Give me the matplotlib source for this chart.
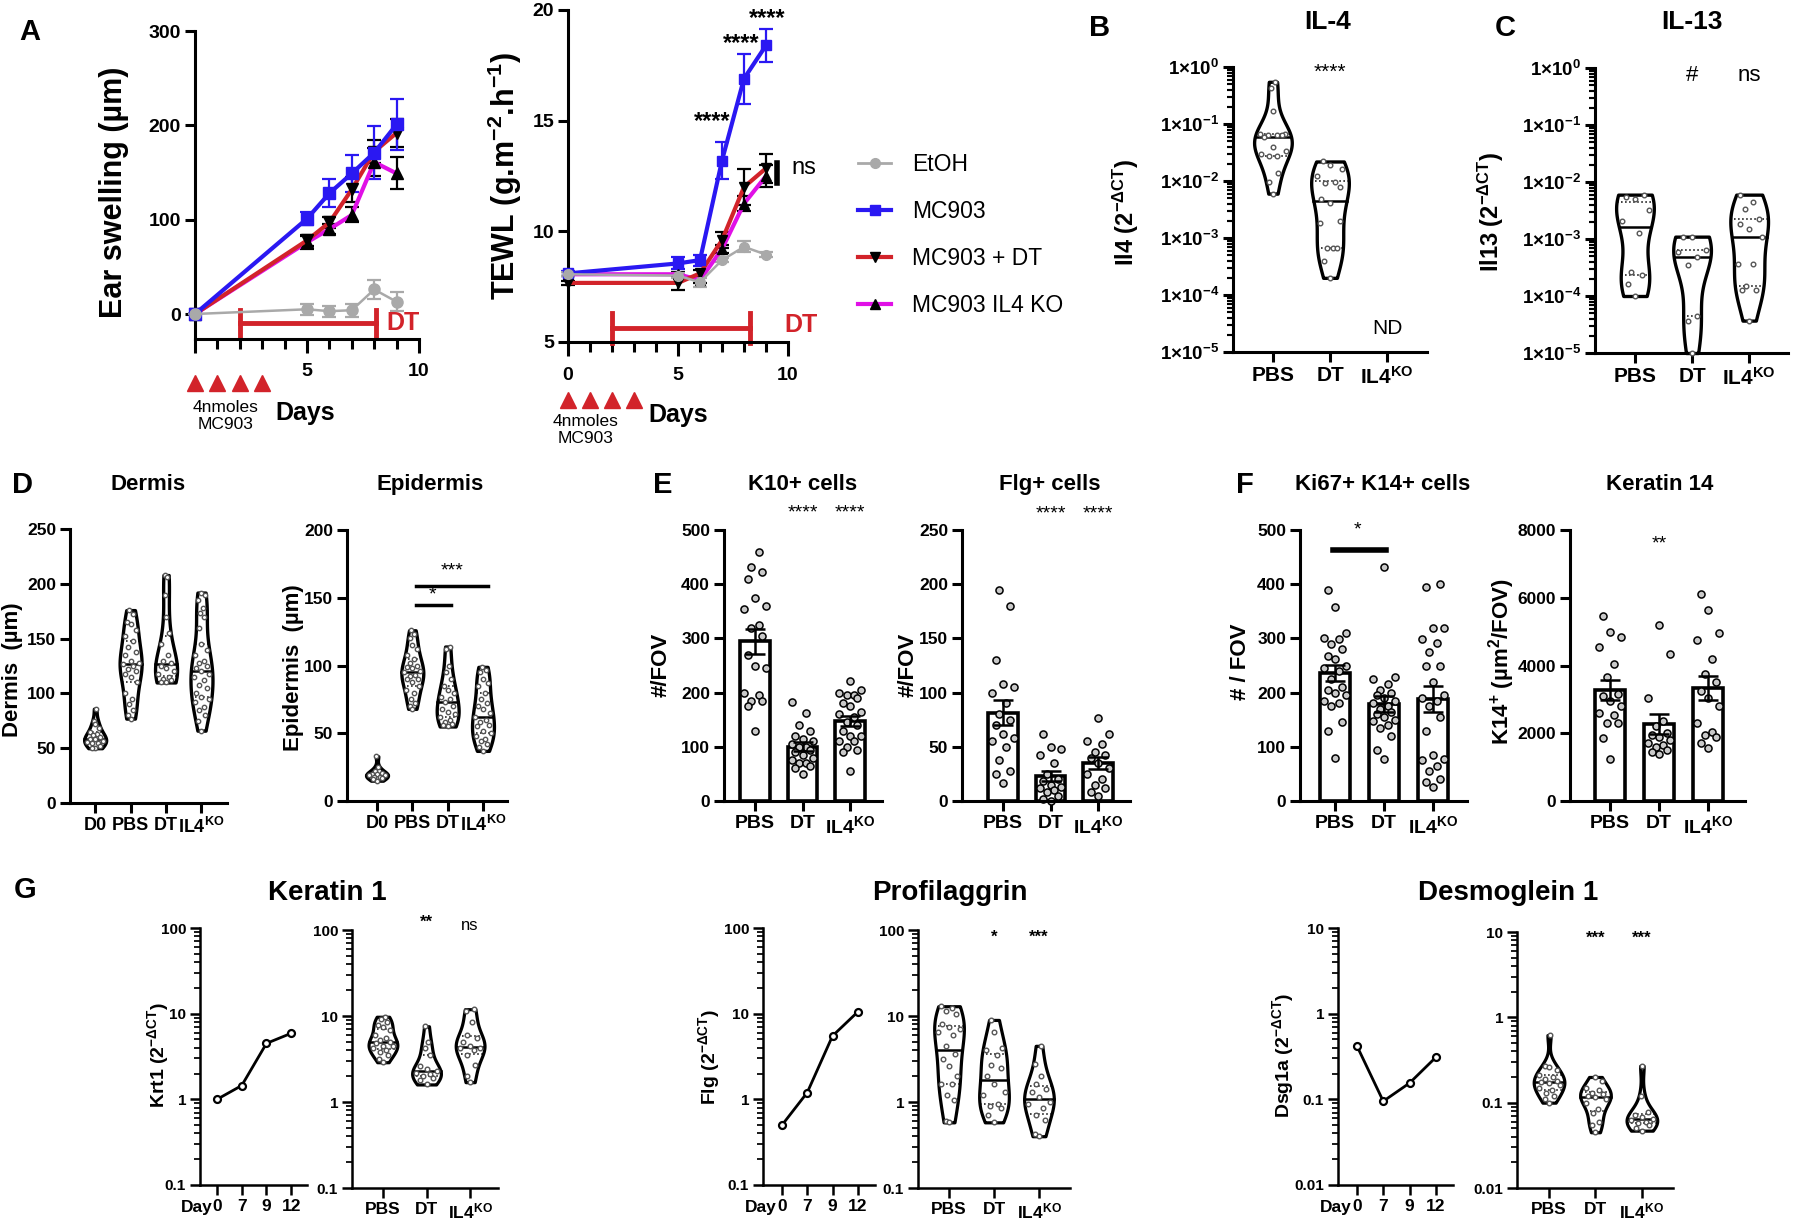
import numpy as np
import matplotlib
matplotlib.use('Agg')
import matplotlib.pyplot as plt
from matplotlib.lines import Line2D
from matplotlib.ticker import LogLocator, NullFormatter

plt.rcParams['font.family'] = ['Liberation Sans', 'DejaVu Sans']
plt.rcParams['font.weight'] = 'bold'
plt.rcParams['mathtext.default'] = 'regular'

# ---------------- data ----------------
days = [0, 5, 6, 7, 8, 9]
ear_etoh = [0, 5, 3, 4, 26, 13]
ear_etoh_err = [0, 6, 6, 7, 10, 10]
ear_mc903 = [0, 101, 128, 149, 171, 201]
ear_mc903_err = [0, 7, 15, 20, 28, 27]
ear_dt = [0, 78, 97, 132, 172, 192]
ear_dt_err = [0, 6, 6, 13, 12, 15]
ear_ko = [0, 76, 90, 105, 161, 149]
ear_ko_err = [0, 7, 5, 8, 15, 17]

tewl_etoh = [8.06, 8.0, 7.7, 8.7, 9.3, 8.95]
tewl_etoh_err = [0.1, 0.1, 0.2, 0.1, 0.25, 0.1]
tewl_mc903 = [8.1, 8.55, 8.7, 13.2, 16.9, 18.4]
tewl_mc903_err = [0.1, 0.27, 0.25, 0.83, 1.13, 0.75]
tewl_dt = [7.67, 7.67, 8.1, 9.6, 12.0, 12.85]
tewl_dt_err = [0.1, 0.3, 0.15, 0.35, 0.8, 0.65]
tewl_ko = [8.06, 8.06, 7.8, 9.2, 11.25, 12.5]
tewl_ko_err = [0.1, 0.1, 0.15, 0.2, 0.35, 0.5]

mc903_days = [0, 1, 2, 3]
dt_window = [2, 8.1]
tewl_stars_x = [6.55, 7.86, 9.05]
tewl_stars_y = [14.95, 18.5, 19.6]

groups3 = ['PBS', 'DT', r'IL4$^{KO}$']
groups4 = ['D0', 'PBS', 'DT', r'IL4$^{KO}$']

il4_pbs = [0.55, 0.42, 0.17, 0.068, 0.066, 0.065, 0.065, 0.063, 0.058, 0.04, 0.034,
           0.03, 0.028, 0.027, 0.014, 0.0095, 0.006]
il4_dt = [0.022, 0.019, 0.016, 0.012, 0.0095, 0.0092, 0.0078, 0.0048, 0.0041, 0.002,
          0.0018, 0.00068, 0.00068, 0.00066, 0.0004, 0.0002]
il13_pbs = [0.006, 0.0055, 0.005, 0.0032, 0.0021, 0.0013, 0.00026, 0.00023, 0.00016, 0.0001]
il13_dt = [0.0011, 0.0011, 0.00065, 0.0006, 0.00048, 0.00035, 0.000045, 0.000037, 0.00001]
il13_ko = [0.006, 0.0045, 0.0033, 0.0022, 0.0018, 0.0015, 0.0011, 0.00037, 0.00037,
           0.00015, 0.00013, 0.00013, 0.000037]

dermis = [
    [86, 75, 72, 68, 65, 63, 62, 60, 58, 58, 57, 56, 55, 55, 52, 50, 50],
    [176, 172, 165, 163, 158, 152, 148, 142, 138, 135, 130, 128, 127, 125, 122, 120, 118,
     115, 110, 100, 95, 90, 85, 80, 77],
    [208, 206, 190, 170, 155, 145, 135, 130, 128, 125, 123, 120, 118, 115, 113, 112, 110, 110],
    [192, 190, 185, 178, 173, 170, 160, 145, 140, 135, 130, 128, 125, 123, 120, 118, 115,
     112, 108, 105, 100, 97, 95, 92, 88, 85, 80, 75, 66],
]
epidermis = [
    [33, 25, 22, 21, 20, 20, 19, 19, 18, 18, 17, 16, 15],
    [126, 123, 120, 115, 112, 108, 105, 102, 100, 99, 98, 96, 95, 93, 92, 90, 90, 88, 85,
     82, 80, 75, 72, 70, 68],
    [114, 112, 100, 95, 90, 85, 82, 80, 77, 75, 73, 70, 68, 66, 64, 62, 60, 58, 57, 56, 55],
    [99, 97, 95, 90, 87, 85, 80, 75, 72, 70, 68, 65, 62, 60, 58, 56, 55, 52, 50, 48, 46,
     44, 42, 40, 37],
]

k10 = [
    [460, 432, 422, 410, 375, 360, 355, 325, 320, 305, 270, 250, 245, 200, 195, 185, 185, 175, 130],
    [183, 163, 140, 130, 120, 115, 110, 105, 100, 100, 95, 90, 85, 80, 75, 70, 70, 65, 60, 50],
    [222, 205, 200, 195, 195, 190, 180, 175, 165, 160, 155, 145, 140, 130, 120, 120, 110,
     110, 100, 95, 90, 55],
]
flg_cells = [
    [195, 180, 130, 108, 105, 100, 90, 80, 75, 70, 62, 58, 55, 50, 38, 28, 25, 17],
    [62, 50, 48, 42, 35, 25, 20, 18, 15, 13, 12, 10, 8, 5, 2, 0],
    [77, 62, 55, 53, 45, 42, 40, 35, 30, 25, 20, 15, 12, 8, 5],
]
ki67 = [
    [390, 358, 310, 300, 298, 290, 280, 268, 262, 250, 245, 240, 225, 210, 205, 200, 195,
     185, 180, 175, 145, 130, 80],
    [432, 228, 225, 215, 205, 200, 195, 190, 185, 180, 175, 170, 165, 160, 155, 150, 148,
     140, 135, 120, 95, 78],
    [400, 395, 320, 320, 298, 292, 275, 250, 250, 220, 195, 190, 185, 175, 155, 130, 85,
     78, 75, 65, 55, 40, 35, 25],
]
k14 = [
    [5450, 5000, 4850, 4550, 4050, 3650, 3150, 3100, 2950, 2800, 2600, 2550, 2300, 2300, 1850, 1250],
    [5200, 4350, 3050, 2350, 2200, 2000, 1950, 1900, 1800, 1700, 1650, 1600, 1500, 1450, 1400],
    [6100, 5650, 4950, 4750, 4200, 3750, 3500, 3250, 3050, 2800, 2300, 2050, 1950, 1900, 1700, 1550],
]

time_days = ['0', '7', '9', '12']
krt1_time = [1.0, 1.45, 4.5, 5.9]
flg_time = [0.5, 1.2, 5.5, 10.5]
dsg_time = [0.42, 0.095, 0.155, 0.31]

krt1 = [
    [9.8, 9.2, 8.5, 7.8, 7.5, 6.8, 6, 5.5, 5.2, 5.0, 4.8, 4.5, 4.5, 4.2, 4.0, 3.8, 3.5, 3.2, 2.9],
    [7.6, 5.0, 4.2, 3.5, 2.6, 2.4, 2.3, 2.2, 2.1, 2.0, 1.9, 1.8, 1.6],
    [12, 11.5, 8.5, 6, 5.5, 5, 4.5, 4.3, 4.2, 4.0, 3.5, 2.7, 2.0, 1.7],
]
flg = [
    [13, 12.5, 11.5, 10.5, 8, 7.5, 7, 6.5, 6, 4.5, 3.6, 3.2, 2.6, 2.0, 1.6, 1.6, 1.2, 1.05, 0.6, 0.58],
    [9, 6.5, 4.2, 4.0, 3.5, 2.7, 2.5, 2.0, 1.6, 1.3, 1.2, 0.95, 0.9, 0.85, 0.7, 0.58],
    [4.5, 2.8, 2.0, 1.6, 1.4, 1.3, 1.15, 1.0, 0.95, 0.85, 0.7, 0.62, 0.42, 0.4],
]
dsg = [
    [0.62, 0.27, 0.26, 0.24, 0.21, 0.2, 0.19, 0.18, 0.175, 0.17, 0.16, 0.15, 0.14, 0.13, 0.12, 0.11, 0.1],
    [0.2, 0.18, 0.15, 0.14, 0.13, 0.125, 0.12, 0.115, 0.11, 0.1, 0.085, 0.075, 0.06, 0.055, 0.045],
    [0.27, 0.12, 0.078, 0.072, 0.068, 0.065, 0.063, 0.06, 0.058, 0.055, 0.05, 0.047],
]

# ---------------- helpers ----------------
W, H = 1800, 1224
fig = plt.figure(figsize=(18, 12.24), dpi=100)

RED = '#d2232a'
BLUE = '#2a18f2'
MAG = '#e010e6'
GRAY = '#a9a9a9'


def add_ax(x0, y0, x1, y1, lw=2.2, fs=13):
    ax = fig.add_axes([x0 / W, 1 - y1 / H, (x1 - x0) / W, (y1 - y0) / H])
    ax.patch.set_alpha(0)
    for s in ['top', 'right']:
        ax.spines[s].set_visible(False)
    for s in ['left', 'bottom']:
        ax.spines[s].set_linewidth(lw)
    ax.tick_params(width=lw, length=7, labelsize=fs, pad=3)
    ax.tick_params(which='minor', width=lw * 0.7, length=4)
    return ax


def ftext(x, y, s, **kw):
    kw.setdefault('ha', 'center')
    kw.setdefault('va', 'center')
    fig.text(x / W, 1 - y / H, s, **kw)


def log_axis(ax, lo, hi, labels, fs):
    ax.set_yscale('log')
    ax.set_ylim(lo, hi)
    ticks = [10.0 ** e for e in range(int(np.log10(lo)), int(np.log10(hi)) + 1)]
    ax.set_yticks(ticks)
    ax.set_yticklabels(labels, fontsize=fs)
    ax.yaxis.set_minor_locator(LogLocator(base=10, subs=np.arange(2, 10) * 1.0, numticks=50))
    ax.yaxis.set_minor_formatter(NullFormatter())


def violin(ax, x, vals, log=True, w=0.33, lw=2.4, s=11):
    v = np.asarray(vals, float)
    t = np.log10(v) if log else v
    g = np.linspace(t.min(), t.max(), 200)
    bw = 1.0 * t.std() * len(t) ** -0.2
    d = np.exp(-0.5 * ((g[:, None] - t[None, :]) / bw) ** 2).sum(1)
    d = d / d.max() * w
    yy = 10 ** g if log else g
    ax.fill_betweenx(yy, x - d, x + d, facecolor='white', edgecolor='black', lw=lw,
                     zorder=2, clip_on=False)
    q1, med, q3 = np.percentile(t, [25, 50, 75])
    for q, ls, qlw in [(med, '-', 1.8), (q1, ':', 1.1), (q3, ':', 1.1)]:
        dq = np.interp(q, g, d)
        yq = 10 ** q if log else q
        ax.plot([x - dq, x + dq], [yq, yq], color='black', ls=ls, lw=qlw, zorder=3)
    pattern = [0, -0.6, 0.6, -0.3, 0.3, -0.85, 0.85]
    order = np.argsort(t)
    offs = np.zeros(len(t))
    offs[order] = [pattern[i % len(pattern)] for i in range(len(t))]
    xs = x + offs * np.interp(t, g, d) * 0.85
    ax.scatter(xs, v, s=s, facecolor='white', edgecolor='#555555', lw=1.0, zorder=4,
               clip_on=False)


def bar_dots(ax, x, vals, s=26):
    v = np.asarray(vals, float)
    m = v.mean()
    se = v.std(ddof=1) / np.sqrt(len(v))
    ax.bar(x, m, width=0.62, facecolor='white', edgecolor='black', lw=2.6, zorder=1)
    pattern = [0, -0.6, 0.6, -0.3, 0.3, -0.9, 0.9]
    order = np.argsort(v)
    offs = np.zeros(len(v))
    offs[order] = [pattern[i % len(pattern)] * 0.25 for i in range(len(v))]
    ax.scatter(x + offs, v, s=s, facecolor='#c9c9c9', edgecolor='black', lw=1.1, zorder=2,
               clip_on=False)
    ax.errorbar(x, m, yerr=se, color='black', capsize=7, elinewidth=1.8, capthick=1.8, zorder=3)


def cat_axis(ax, labels, fs):
    ax.set_xticks(range(len(labels)))
    ax.set_xticklabels(labels, fontsize=fs)


# ---------------- panel A ----------------
def time_course(ax, series, ms):
    for vals, err, lc, mk, mc in series:
        cont = ax.errorbar(days, vals, yerr=err, color=lc, lw=3 if lc != GRAY else 1.8,
                           marker=mk, ms=ms, mfc=mc, mec=mc, ecolor=mc,
                           elinewidth=1.6, capsize=5, capthick=1.6, zorder=3)
        for art in cont.get_children():
            art.set_clip_on(False)


axA1 = add_ax(195, 31, 419, 339, fs=14)
time_course(axA1, [(ear_ko, ear_ko_err, MAG, '^', 'black'),
                   (ear_dt, ear_dt_err, RED, 'v', 'black'),
                   (ear_mc903, ear_mc903_err, BLUE, 's', BLUE),
                   (ear_etoh, ear_etoh_err, GRAY, 'o', GRAY)], 8)
axA1.set_xlim(0, 10)
axA1.set_ylim(-26.5, 300)
axA1.set_yticks([0, 100, 200, 300])
axA1.set_xticks([0, 5, 10])
axA1.set_xticklabels(['', '5', '10'])
axA1.set_xticks([1, 2, 3, 4, 6, 7, 8, 9], minor=True)
axA1.tick_params(axis='x', length=10, pad=7)
axA1.tick_params(axis='x', which='minor', length=7, width=2.2)
axA1.plot(dt_window, [-10, -10], color=RED, lw=3.5, clip_on=False)
for xd in dt_window:
    axA1.plot([xd, xd], [-24, 4], color=RED, lw=3.5, clip_on=False)
axA1.plot(mc903_days, [-73] * 4, ls='none', marker='^', color=RED, ms=12, clip_on=False)
ftext(403, 323, 'DT', color=RED, fontsize=18)
ftext(226, 416, '4nmoles\nMC903', fontsize=12.5, fontweight='normal', linespacing=1.15)
ftext(305, 413, 'Days', fontsize=18)
ftext(114, 192, 'Ear swelling (µm)', fontsize=22, rotation=90)

axA2 = add_ax(568, 10, 788, 342, fs=14)
time_course(axA2, [(tewl_ko, tewl_ko_err, MAG, '^', 'black'),
                   (tewl_dt, tewl_dt_err, RED, 'v', 'black'),
                   (tewl_mc903, tewl_mc903_err, BLUE, 's', BLUE),
                   (tewl_etoh, tewl_etoh_err, GRAY, 'o', GRAY)], 7)
axA2.set_xlim(0, 10)
axA2.set_ylim(5, 20)
axA2.set_yticks([5, 10, 15, 20])
axA2.set_xticks([0, 5, 10])
axA2.set_xticks([1, 2, 3, 4, 6, 7, 8, 9], minor=True)
axA2.tick_params(axis='x', length=10, pad=8)
axA2.tick_params(axis='x', which='minor', length=7, width=2.2)
axA2.plot([dt_window[0], dt_window[1] + 0.15], [5.63, 5.63], color=RED, lw=3.5, clip_on=False)
for xd in [dt_window[0], dt_window[1] + 0.15]:
    axA2.plot([xd, xd], [4.95, 6.3], color=RED, lw=3.5, clip_on=False)
axA2.plot(mc903_days, [2.4] * 4, ls='none', marker='^', color=RED, ms=12, clip_on=False)
for sx, sy in zip(tewl_stars_x, tewl_stars_y):
    axA2.text(sx, sy, '****', ha='center', va='center', fontsize=17)
axA2.plot([9.5, 9.5], [12.2, 13.1], color='black', lw=4)
axA2.text(10.15, 12.85, 'ns', ha='left', va='center', fontsize=17, fontweight='normal')
ftext(801, 325, 'DT', color=RED, fontsize=18)
ftext(586, 430, '4nmoles\nMC903', fontsize=12.5, fontweight='normal', linespacing=1.15)
ftext(678, 415, 'Days', fontsize=18)
ftext(505, 176, r'TEWL (g.m$^{-2}$.h$^{-1}$)', fontsize=22, rotation=90)

handles = [Line2D([], [], color=GRAY, lw=2, marker='o', ms=7),
           Line2D([], [], color=BLUE, lw=3, marker='s', ms=7),
           Line2D([], [], color=RED, lw=3, marker='v', ms=7, mfc='black', mec='black'),
           Line2D([], [], color=MAG, lw=3, marker='^', ms=7, mfc='black', mec='black')]
fig.legend(handles, ['EtOH', 'MC903', 'MC903 + DT', 'MC903 IL4 KO'], loc='upper left',
           bbox_to_anchor=(858 / W, 1 - 153 / H), frameon=False, borderpad=0,
           borderaxespad=0, handlelength=1.45, handletextpad=0.9, labelspacing=1.05,
           prop={'size': 16.5, 'weight': 'normal'})
ftext(30, 32, 'A', fontsize=21)

# ---------------- panels B, C ----------------
sci_labels = [r'1×10$^{-5}$', r'1×10$^{-4}$', r'1×10$^{-3}$', r'1×10$^{-2}$',
              r'1×10$^{-1}$', r'1×10$^{0}$']

axB = add_ax(1233, 67, 1427, 352, fs=14)
log_axis(axB, 1e-5, 1, sci_labels, 13.5)
violin(axB, 0, il4_pbs)
violin(axB, 1, il4_dt)
axB.set_xlim(-0.7, 2.7)
cat_axis(axB, groups3, 15)
axB.text(1, 0.82, '****', ha='center', va='center', fontsize=15, fontweight='normal')
axB.text(2, 2.6e-5, 'ND', ha='center', va='center', fontsize=15, fontweight='normal')
ftext(1126, 212, r'Il4 (2$^{-ΔCT}$)', fontsize=17, rotation=90)
ftext(1100, 28, 'B', fontsize=21)
ftext(1328, 22, 'IL-4', fontsize=19)

axC = add_ax(1595, 68, 1788, 353, fs=14)
log_axis(axC, 1e-5, 1, sci_labels, 13.5)
violin(axC, 0, il13_pbs)
violin(axC, 1, il13_dt)
violin(axC, 2, il13_ko)
axC.set_xlim(-0.7, 2.68)
cat_axis(axC, groups3, 15)
axC.text(1, 0.75, '#', ha='center', va='center', fontsize=16, fontweight='normal')
axC.text(2, 0.75, 'ns', ha='center', va='center', fontsize=16, fontweight='normal')
ftext(1491, 212, r'Il13 (2$^{-ΔCT}$)', fontsize=17, rotation=90)
ftext(1505, 28, 'C', fontsize=21)
ftext(1692, 22, 'IL-13', fontsize=19)

# ---------------- panel D ----------------
axD1 = add_ax(70, 529, 227, 803, fs=12.5)
for i, vals in enumerate(dermis):
    violin(axD1, i, vals, log=False, w=0.31, s=10)
axD1.set_xlim(-0.71, 3.72)
axD1.set_ylim(0, 250)
axD1.set_yticks(range(0, 251, 50))
cat_axis(axD1, groups4, 13)
ftext(13, 670, 'Dermis  (µm)', fontsize=16, rotation=90)

axD2 = add_ax(347, 530, 507, 801, fs=12.5)
for i, vals in enumerate(epidermis):
    violin(axD2, i, vals, log=False, w=0.31, s=10)
axD2.set_xlim(-0.85, 3.68)
axD2.set_ylim(0, 200)
axD2.set_yticks(range(0, 201, 50))
cat_axis(axD2, groups4, 13)
axD2.plot([1.1, 2.1], [144.6, 144.6], color='black', lw=2.5)
axD2.plot([1.1, 3.15], [158.7, 158.7], color='black', lw=2.5)
axD2.text(1.56, 152, '*', ha='center', va='center', fontsize=14, fontweight='normal')
axD2.text(2.12, 170, '***', ha='center', va='center', fontsize=14, fontweight='normal')
ftext(294, 668, 'Epidermis  (µm)', fontsize=16, rotation=90)
ftext(23, 485, 'D', fontsize=21)
ftext(148, 485, 'Dermis', fontsize=16)
ftext(430, 485, 'Epidermis', fontsize=16)

# ---------------- panel E ----------------
def bar_panel(ax, data, ymax, step, xlim):
    for i, vals in enumerate(data):
        bar_dots(ax, i, vals)
    ax.set_xlim(*xlim)
    ax.set_ylim(0, ymax)
    ax.set_yticks(np.arange(0, ymax + 1, step))
    cat_axis(ax, groups3, 14)


axE1 = add_ax(724, 530, 882, 801, fs=12.5)
bar_panel(axE1, k10, 500, 100, (-0.65, 2.67))
for xs in [1, 2]:
    axE1.text(xs, 531, '****', ha='center', va='center', fontsize=14, fontweight='normal')
ftext(661, 665, '#/FOV', fontsize=16, rotation=90)

axE2 = add_ax(962, 530, 1130, 801, fs=12.5)
bar_panel(axE2, flg_cells, 250, 50, (-0.86, 2.67))
for xs in [1, 2]:
    axE2.text(xs, 265, '****', ha='center', va='center', fontsize=14, fontweight='normal')
ftext(908, 665, '#/FOV', fontsize=16, rotation=90)
ftext(663, 485, 'E', fontsize=21)
ftext(803, 485, 'K10+ cells', fontsize=16)
ftext(1050, 485, 'Flg+ cells', fontsize=16)

# ---------------- panel F ----------------
axF1 = add_ax(1300, 530, 1467, 801, fs=12.5)
bar_panel(axF1, ki67, 500, 100, (-0.71, 2.69))
axF1.plot([-0.04, 1.04], [463, 463], color='black', lw=4, clip_on=False)
axF1.text(0.47, 500, '*', ha='center', va='center', fontsize=14, fontweight='normal')
ftext(1240, 662, '# / FOV', fontsize=16, rotation=90)

axF2 = add_ax(1570, 530, 1745, 801, fs=12.5)
bar_panel(axF2, k14, 8000, 2000, (-0.82, 2.75))
axF2.text(1, 7600, '**', ha='center', va='center', fontsize=14, fontweight='normal')
ftext(1502, 662, r'K14$^{+}$ (µm$^{2}$/FOV)', fontsize=16, rotation=90)
ftext(1245, 485, 'F', fontsize=21)
ftext(1383, 485, 'Ki67+ K14+ cells', fontsize=16)
ftext(1660, 485, 'Keratin 14', fontsize=16)

# ---------------- panel G ----------------
def time_panel(box, vals, lo, hi, labels, xlim):
    ax = add_ax(*box, lw=1.8, fs=11)
    ax.plot(range(len(vals)), vals, color='black', lw=2, marker='o', ms=5, mfc='white',
            mec='black', mew=1.6, zorder=3)
    log_axis(ax, lo, hi, labels, 11)
    ax.set_xlim(*xlim)
    ax.set_xticks(range(len(time_days)))
    ax.set_xticklabels(time_days, fontsize=12.5)
    ax.annotate('Day', xy=(0, 0), xycoords=('data', 'axes fraction'), xytext=(-3.5, -10.5),
                textcoords='offset points', ha='right', va='top', fontsize=12.5)
    return ax


def gene_violin(box, data, lo, hi, labels, xlim, stars):
    ax = add_ax(*box, lw=1.8, fs=11)
    log_axis(ax, lo, hi, labels, 11)
    for i, vals in enumerate(data):
        violin(ax, i, vals, w=0.33, s=11, lw=2.3)
    ax.set_xlim(*xlim)
    cat_axis(ax, groups3, 12.5)
    for xs, (txt, yv) in stars.items():
        ax.text(xs, yv, txt, ha='center', va='center', fontsize=12,
                fontweight='normal' if txt == 'ns' else 'bold')
    return ax


lab100 = ['0.1', '1', '10', '100']
lab10 = ['0.01', '0.1', '1', '10']

time_panel((200, 928, 307, 1185), krt1_time, 0.1, 100, lab100, (-0.69, 3.64))
gene_violin((352, 930, 498, 1188), krt1, 0.1, 100, lab100, (-0.71, 2.64),
            {1: ('**', 123), 2: ('ns', 113)})
ftext(158, 1055, r'Krt1 (2$^{-ΔCT}$)', fontsize=14, rotation=90)

time_panel((763, 928, 875, 1185), flg_time, 0.1, 100, lab100, (-0.75, 3.68))
gene_violin((918, 930, 1070, 1188), flg, 0.1, 100, lab100, (-0.69, 2.69),
            {1: ('*', 83), 2: ('***', 83)})
ftext(709, 1057, r'Flg (2$^{-ΔCT}$)', fontsize=14, rotation=90)

time_panel((1338, 928, 1453, 1185), dsg_time, 0.01, 10, lab10, (-0.72, 3.65))
gene_violin((1517, 932, 1673, 1188), dsg, 0.01, 10, lab10, (-0.69, 2.67),
            {1: ('***', 8.5), 2: ('***', 8.5)})
ftext(1283, 1055, r'Dsg1a (2$^{-ΔCT}$)', fontsize=14, rotation=90)

ftext(25, 890, 'G', fontsize=21)
ftext(327, 893, 'Keratin 1', fontsize=20)
ftext(950, 893, 'Profilaggrin', fontsize=20)
ftext(1508, 893, 'Desmoglein 1', fontsize=20)

fig.savefig('out.png', dpi=100, facecolor='white')
